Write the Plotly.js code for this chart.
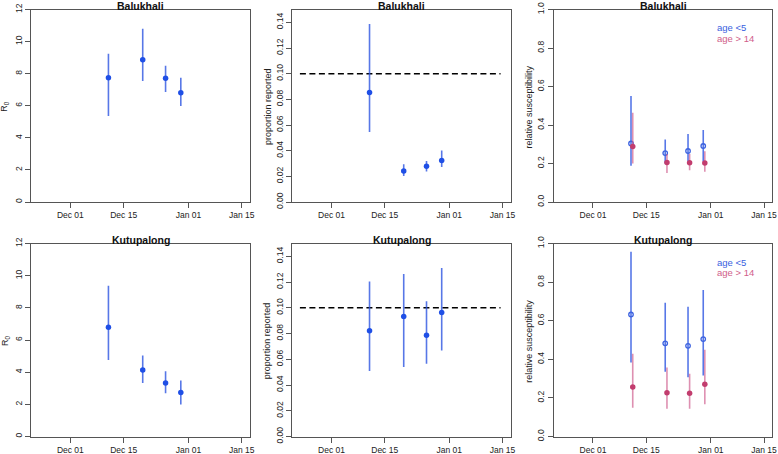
<!DOCTYPE html>
<html>
<head>
<meta charset="utf-8">
<script src="https://cdn.plot.ly/plotly-3.0.1.min.js"></script>
<style>html,body{margin:0;padding:0;background:#fff}#chart{width:778px;height:454px}</style>
</head>
<body>
<div id="chart"></div>
<script>
// ---------- data ----------
const campNames = ["Balukhali", "Kutupalong"];
const tickDates = ["2017-12-01", "2017-12-15", "2018-01-01", "2018-01-15"];
const tickLabels = ["Dec 01", "Dec 15", "Jan 01", "Jan 15"];
const estDates = ["2017-12-11", "2017-12-20", "2017-12-26", "2017-12-30"];
const oldDates = ["2017-12-11 11:00", "2017-12-20 11:00", "2017-12-26 10:00", "2017-12-30 10:00"];

const balR0Mid = [7.74, 8.86, 7.72, 6.81];
const balR0Lo  = [5.36, 7.54, 6.85, 5.98];
const balR0Hi  = [9.24, 10.8, 8.49, 7.74];
const kutR0Mid = [6.79, 4.14, 3.33, 2.73];
const kutR0Lo  = [4.76, 3.33, 2.69, 1.99];
const kutR0Hi  = [9.37, 5.03, 4.06, 3.48];

const balRepMid = [0.0853, 0.0242, 0.0278, 0.0323];
const balRepLo  = [0.0546, 0.0203, 0.0237, 0.0273];
const balRepHi  = [0.1387, 0.0294, 0.0320, 0.0401];
const kutRepMid = [0.0822, 0.0932, 0.0786, 0.0963];
const kutRepLo  = [0.0510, 0.0541, 0.0565, 0.0669];
const kutRepHi  = [0.1205, 0.1262, 0.1051, 0.1309];

const balYoungMid = [0.304, 0.254, 0.265, 0.291];
const balYoungLo  = [0.188, 0.200, 0.210, 0.210];
const balYoungHi  = [0.551, 0.325, 0.353, 0.374];
const balOldMid = [0.288, 0.205, 0.204, 0.202];
const balOldLo  = [0.200, 0.151, 0.165, 0.157];
const balOldHi  = [0.463, 0.250, 0.250, 0.264];
const kutYoungMid = [0.632, 0.483, 0.470, 0.505];
const kutYoungLo  = [0.384, 0.335, 0.307, 0.316];
const kutYoungHi  = [0.957, 0.693, 0.672, 0.759];
const kutOldMid = [0.257, 0.227, 0.224, 0.271];
const kutOldLo  = [0.149, 0.144, 0.144, 0.167];
const kutOldHi  = [0.429, 0.358, 0.325, 0.450];

const refReportX = ["2017-11-22 16:00", "2018-01-14 12:00"];
const refReportY = [0.1, 0.1];

const yTitles = ["R<sub>0</sub>", "proportion reported", "relative susceptibility"];
const legendLabels = ["age <5", "age > 14"];

// ---------- styling ----------
const W = 778, H = 454;
const FONT = "Liberation Sans, Arial, sans-serif";
const blueDot = "#1f4fe6", blueBar = "rgba(45,85,225,0.8)", blueOpen = "#3d63e0";
const pinkDot = "#c23d6e", pinkBar = "rgba(205,85,135,0.65)";
const axisCol = "#555";
const xRange = ["2017-11-20 16:00", "2018-01-17 04:00"];

const colsPx = [[31, 250], [292.3, 510.7], [553.7, 772.3]];
const rowsPx = [[9.5, 202], [243.5, 436.5]];

function err(mid, lo, hi, color) {
  return {type: "data", symmetric: false,
    array: hi.map((h, i) => h - mid[i]),
    arrayminus: mid.map((m, i) => m - lo[i]),
    width: 0, thickness: 1.6, color: color};
}

const traces = [];
const layout = {
  width: W, height: H, margin: {l: 0, r: 0, t: 0, b: 0},
  paper_bgcolor: "#fff", plot_bgcolor: "#fff", showlegend: false,
  font: {family: FONT, size: 9, color: "#222"},
  annotations: []
};

const r0Sets = [[balR0Mid, balR0Lo, balR0Hi], [kutR0Mid, kutR0Lo, kutR0Hi]];
const repSets = [[balRepMid, balRepLo, balRepHi], [kutRepMid, kutRepLo, kutRepHi]];
const suscSets = [
  [[balYoungMid, balYoungLo, balYoungHi], [balOldMid, balOldLo, balOldHi]],
  [[kutYoungMid, kutYoungLo, kutYoungHi], [kutOldMid, kutOldLo, kutOldHi]]
];
const yRanges = [[0, 12], [0, 0.15], [0, 1]];
const yTicks = [[0, 2, 4, 6, 8, 10, 12], [0, 0.02, 0.04, 0.06, 0.08, 0.10, 0.12, 0.14], [0, 0.2, 0.4, 0.6, 0.8, 1.0]];
const yFormats = ["d", ".2f", ".1f"];

let k = 0;
for (let r = 0; r < 2; r++) {
  for (let c = 0; c < 3; c++) {
    k++;
    const xa = "x" + (k === 1 ? "" : k), ya = "y" + (k === 1 ? "" : k);
    const xKey = "xaxis" + (k === 1 ? "" : k), yKey = "yaxis" + (k === 1 ? "" : k);
    const [x0, x1] = colsPx[c], [yt, yb] = rowsPx[r];
    layout[xKey] = {
      domain: [x0 / W, x1 / W], anchor: ya, type: "date", range: xRange,
      tickvals: tickDates, ticktext: tickLabels, ticks: "outside", ticklen: 5,
      tickcolor: axisCol, tickwidth: 1, showline: true, linecolor: axisCol, linewidth: 1,
      mirror: true, showgrid: false, zeroline: false, tickfont: {family: FONT, size: 8.5, color: "#222"}
    };
    layout[yKey] = {
      domain: [1 - yb / H, 1 - yt / H], anchor: xa, range: yRanges[c],
      tickvals: yTicks[c], tickformat: yFormats[c], tickangle: -90,
      ticks: "outside", ticklen: 5, tickcolor: axisCol, tickwidth: 1,
      showline: true, linecolor: axisCol, linewidth: 1, mirror: true,
      showgrid: false, zeroline: false, tickfont: {family: FONT, size: 8.5, color: "#222"}
    };
    // panel title
    layout.annotations.push({
      text: "<b>" + campNames[r] + "</b>", xref: "paper", yref: "paper",
      x: (x0 + x1) / 2 / W, y: 1 - (yt - 4) / H, xanchor: "center", yanchor: "middle",
      showarrow: false, font: {family: FONT, size: 10.5, color: "#111"}
    });
    // y title
    const ytX = [5, 267.3, 528.7][c];
    layout.annotations.push({
      text: yTitles[c], xref: "paper", yref: "paper", textangle: -90,
      x: ytX / W, y: 1 - ((yt + yb) / 2 + 1) / H, xanchor: "center", yanchor: "middle",
      showarrow: false, font: {family: FONT, size: 9, color: "#222"}
    });

    if (c === 0) {
      const [m, lo, hi] = r0Sets[r];
      traces.push({type: "scatter", mode: "markers", x: estDates, y: m, xaxis: xa, yaxis: ya,
        marker: {color: blueDot, size: 5.5}, error_y: err(m, lo, hi, blueBar)});
    } else if (c === 1) {
      const [m, lo, hi] = repSets[r];
      traces.push({type: "scatter", mode: "lines", x: refReportX, y: refReportY, xaxis: xa, yaxis: ya,
        line: {color: "#000", width: 1.5, dash: "6px,3.5px"}});
      traces.push({type: "scatter", mode: "markers", x: estDates, y: m, xaxis: xa, yaxis: ya,
        marker: {color: blueDot, size: 5.5}, error_y: err(m, lo, hi, blueBar)});
    } else {
      const [[ym, ylo, yhi], [om, olo, ohi]] = suscSets[r];
      traces.push({type: "scatter", mode: "markers", x: estDates, y: ym, xaxis: xa, yaxis: ya,
        marker: {color: blueOpen, size: 4.5, symbol: "circle-open", line: {width: 1.3, color: blueOpen}},
        error_y: err(ym, ylo, yhi, blueBar)});
      traces.push({type: "scatter", mode: "markers", x: oldDates, y: om, xaxis: xa, yaxis: ya,
        marker: {color: pinkDot, size: 5.5}, error_y: err(om, olo, ohi, pinkBar)});
      const legY = r === 0 ? [27.8, 38.2] : [262.5, 272.9];
      layout.annotations.push({text: legendLabels[0], xref: "paper", yref: "paper",
        x: 715 / W, y: 1 - legY[0] / H, xanchor: "left", yanchor: "middle", showarrow: false,
        font: {family: FONT, size: 9.5, color: "#3a5fe0"}});
      layout.annotations.push({text: legendLabels[1], xref: "paper", yref: "paper",
        x: 715 / W, y: 1 - legY[1] / H, xanchor: "left", yanchor: "middle", showarrow: false,
        font: {family: FONT, size: 9.5, color: "#d0608a"}});
    }
  }
}

Plotly.newPlot("chart", traces, layout, {staticPlot: true, displayModeBar: false});
</script>
</body>
</html>
